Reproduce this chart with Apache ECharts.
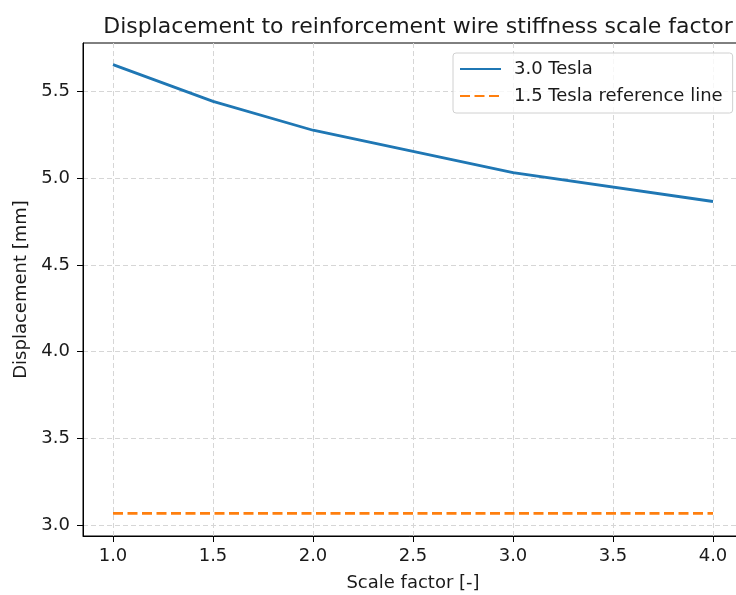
<!DOCTYPE html>
<html>
<head>
<meta charset="utf-8">
<script src="https://cdn.jsdelivr.net/npm/echarts@6/dist/echarts.min.js"></script>
<style>
  html, body { margin: 0; padding: 0; background: #fff; }
  #chart { width: 736px; height: 595px; }
</style>
</head>
<body>
<div id="chart"></div>
<script>
// scale factor and displacement readings
const scaleFactor = [1.0, 1.5, 2.0, 3.0, 4.0];
const disp3T = [5.655, 5.443, 5.277, 5.033, 4.866];
const refX = [1.0, 4.0];
const ref15T = [3.067, 3.067];
const xTicks = [1.0, 1.5, 2.0, 2.5, 3.0, 3.5, 4.0];
const yTicks = [3.0, 3.5, 4.0, 4.5, 5.0, 5.5];

const font = "DejaVu Sans";
const textColor = "#1a1a1a";
let chart = echarts.init(document.getElementById("chart"));

chart.setOption({
  animation: false,
  textStyle: { fontFamily: font },
  title: {
    text: "Displacement to reinforcement wire stiffness scale factor",
    left: 413,
    textAlign: "center",
    top: 11,
    textStyle: { fontFamily: font, fontSize: 22, fontWeight: "normal", color: textColor }
  },
  legend: {
    orient: "vertical",
    left: 453,
    top: 53,
    padding: [7, 10, 8, 6],
    itemWidth: 41,
    itemHeight: 18,
    itemGap: 9,
    itemStyle: { opacity: 0 },
    backgroundColor: "rgba(255,255,255,0.8)",
    borderColor: "#d0d0d0",
    borderWidth: 1,
    borderRadius: 3,
    textStyle: { fontFamily: font, fontSize: 18, color: textColor, padding: [0, 0, 0, 8] },
    data: ["3.0 Tesla", "1.5 Tesla reference line"]
  },
  grid: {
    left: 83,
    top: 43,
    width: 660,
    height: 493,
    outerBoundsMode: "none",
    show: true,
    borderColor: "#000",
    borderWidth: 1
  },
  xAxis: {
    type: "value",
    min: 0.85,
    max: 4.15,
    name: "Scale factor [-]",
    nameLocation: "middle",
    nameGap: 38,
    nameTextStyle: { fontFamily: font, fontSize: 18, color: textColor },
    axisLine: { show: true, lineStyle: { color: "#000", width: 1 } },
    axisTick: { show: true, length: 6, lineStyle: { color: "#000" }, customValues: xTicks },
    axisLabel: {
      fontFamily: font, fontSize: 18, color: textColor, margin: 11,
      customValues: xTicks,
      formatter: v => v.toFixed(1)
    },
    splitLine: { show: true, lineStyle: { color: "#d6d6d6", type: [5, 3], width: 1 } }
  },
  yAxis: {
    type: "value",
    min: 2.937,
    max: 5.78,
    name: "Displacement [mm]",
    nameLocation: "middle",
    nameGap: 52,
    nameTextStyle: { fontFamily: font, fontSize: 18, color: textColor },
    axisLine: { show: true, lineStyle: { color: "#000", width: 1 } },
    axisTick: { show: true, length: 6, lineStyle: { color: "#000" }, customValues: yTicks },
    axisLabel: {
      fontFamily: font, fontSize: 18, color: textColor, margin: 13,
      customValues: yTicks,
      formatter: v => v.toFixed(1)
    },
    splitLine: { show: true, lineStyle: { color: "#d6d6d6", type: [5, 3], width: 1 } }
  },
  series: [
    {
      name: "3.0 Tesla",
      type: "line",
      symbol: "none",
      data: scaleFactor.map((x, i) => [x, disp3T[i]]),
      lineStyle: { color: "#1f77b4", width: 2.8 },
      itemStyle: { color: "#1f77b4" }
    },
    {
      name: "1.5 Tesla reference line",
      type: "line",
      symbol: "none",
      data: refX.map((x, i) => [x, ref15T[i]]),
      lineStyle: { color: "#ff7f0e", width: 2.8, type: [10, 4.5] },
      itemStyle: { color: "#ff7f0e" }
    }
  ]
});
</script>
</body>
</html>
